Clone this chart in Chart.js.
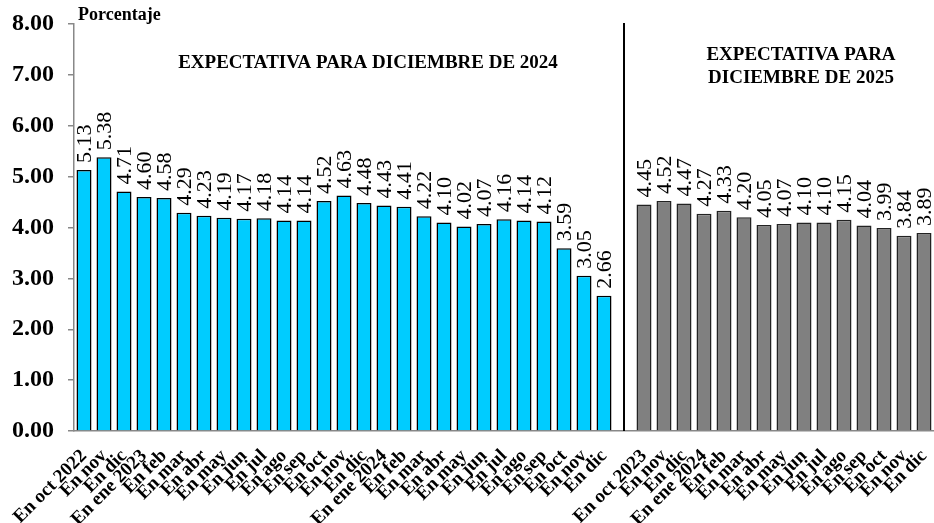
<!DOCTYPE html>
<html>
<head>
<meta charset="utf-8">
<script src="https://cdn.jsdelivr.net/npm/chart.js@4.4.1/dist/chart.umd.min.js"></script>
<style>
  html, body { margin: 0; padding: 0; background: #fff; }
  #wrap { width: 934px; height: 523px; }
</style>
</head>
<body>
<div id="wrap"><canvas id="grafica" width="934" height="523"></canvas></div>
<script>
// expectativa para diciembre de 2024
const meses2024 = ["En oct 2022", "En nov", "En dic", "En ene 2023", "En feb", "En mar", "En abr",
  "En may", "En jun", "En jul", "En ago", "En sep", "En oct", "En nov", "En dic", "En ene 2024",
  "En feb", "En mar", "En abr", "En may", "En jun", "En jul", "En ago", "En sep", "En oct",
  "En nov", "En dic"];
const valores2024 = [5.13, 5.38, 4.71, 4.60, 4.58, 4.29, 4.23, 4.19, 4.17, 4.18, 4.14, 4.14,
  4.52, 4.63, 4.48, 4.43, 4.41, 4.22, 4.10, 4.02, 4.07, 4.16, 4.14, 4.12, 3.59, 3.05, 2.66];

// expectativa para diciembre de 2025
const meses2025 = ["En oct 2023", "En nov", "En dic", "En ene 2024", "En feb", "En mar", "En abr",
  "En may", "En jun", "En jul", "En ago", "En sep", "En oct", "En nov", "En dic"];
const valores2025 = [4.45, 4.52, 4.47, 4.27, 4.33, 4.20, 4.05, 4.07, 4.10, 4.10, 4.15, 4.04,
  3.99, 3.84, 3.89];

const yTicks = [0, 1, 2, 3, 4, 5, 6, 7, 8];

const SERIF = "'Liberation Serif', 'DejaVu Serif', serif";
const AZUL = "#00CCFF";
const GRIS = "#808080";

// una categoria vacia separa los dos bloques
const etiquetas = [...meses2024, "", ...meses2025];
const valores = [...valores2024, null, ...valores2025];
const colores = [...valores2024.map(() => AZUL), AZUL, ...valores2025.map(() => GRIS)];
const bordes = [...valores2024.map(() => "#000"), "#000", ...valores2025.map(() => "#222")];
const indiceSeparador = valores2024.length;

const etiquetasDatos = {
  id: "etiquetasDatos",
  afterDatasetsDraw(chart) {
    const ctx = chart.ctx;
    const meta = chart.getDatasetMeta(0);
    ctx.save();
    ctx.fillStyle = "#000";
    ctx.font = "22px " + SERIF;
    ctx.textAlign = "left";
    ctx.textBaseline = "middle";
    meta.data.forEach((bar, i) => {
      const v = valores[i];
      if (v === null) return;
      ctx.save();
      ctx.translate(bar.x + 1, bar.y - 7);
      ctx.rotate(-Math.PI / 2);
      ctx.fillText(v.toFixed(2), 0, 0);
      ctx.restore();
    });
    ctx.restore();
  }
};

const anotaciones = {
  id: "anotaciones",
  afterDraw(chart) {
    const ctx = chart.ctx;
    const area = chart.chartArea;
    const x = chart.scales.x;
    ctx.save();

    // linea separadora
    const xs = Math.round(x.getPixelForValue(indiceSeparador));
    ctx.strokeStyle = "#000";
    ctx.lineWidth = 2;
    ctx.beginPath();
    ctx.moveTo(xs, area.top - 1);
    ctx.lineTo(xs, area.bottom);
    ctx.stroke();

    ctx.fillStyle = "#000";
    ctx.textBaseline = "middle";

    ctx.font = "bold 18px " + SERIF;
    ctx.textAlign = "left";
    ctx.fillText("Porcentaje", area.left + 4, 15);

    ctx.font = "bold 19px " + SERIF;
    ctx.textAlign = "center";
    ctx.fillText("EXPECTATIVA PARA DICIEMBRE DE 2024", 368, 63);
    ctx.fillText("EXPECTATIVA PARA", 801, 55);
    ctx.fillText("DICIEMBRE DE 2025", 801, 78);
    ctx.restore();
  }
};

new Chart(document.getElementById("grafica"), {
  type: "bar",
  data: {
    labels: etiquetas,
    datasets: [{
      data: valores,
      backgroundColor: colores,
      borderColor: bordes,
      borderWidth: 1.5,
      barPercentage: 0.75,
      categoryPercentage: 1.0
    }]
  },
  options: {
    responsive: false,
    animation: false,
    layout: { padding: { top: 24, right: 0, left: 0, bottom: 0 } },
    plugins: {
      legend: { display: false },
      tooltip: { enabled: false }
    },
    scales: {
      x: {
        grid: { display: false },
        border: { color: "#888", width: 1.5 },
        ticks: {
          autoSkip: false,
          maxRotation: 45,
          minRotation: 45,
          padding: 6,
          color: "#000",
          font: { family: SERIF, size: 19, weight: "bold" }
        },
        afterFit(scale) {
          scale.height = 92;
          scale.paddingLeft = 0;
          scale.paddingRight = 0;
        }
      },
      y: {
        min: 0,
        max: 8,
        afterBuildTicks(scale) { scale.ticks = yTicks.map(v => ({ value: v })); },
        grid: { display: true, drawOnChartArea: false, tickLength: 6, color: "#888", lineWidth: 1.5 },
        border: { color: "#888", width: 1.5 },
        ticks: {
          padding: 14,
          color: "#000",
          font: { family: SERIF, size: 24, weight: "bold" },
          callback: v => v.toFixed(2)
        },
        afterFit(scale) {
          scale.width = 74;
          scale.paddingTop = 0;
          scale.paddingBottom = 0;
        }
      }
    }
  },
  plugins: [etiquetasDatos, anotaciones]
});
</script>
</body>
</html>
